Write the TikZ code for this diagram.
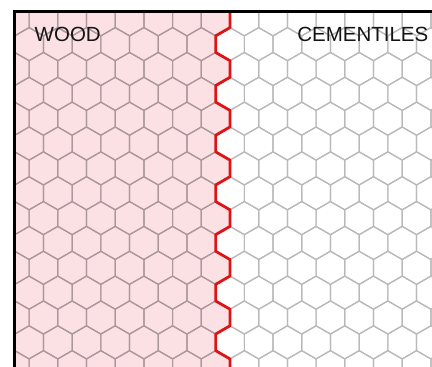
\documentclass[tikz,border=0pt]{standalone}
\usepackage{fontspec}
\setmainfont{Liberation Sans}
\definecolor{woodpink}{RGB}{252,225,228}
\definecolor{hexonpink}{RGB}{172,152,155}
\definecolor{hexonwhite}{RGB}{185,185,185}
\definecolor{boundred}{RGB}{222,20,20}
\begin{document}
\begin{tikzpicture}[x=1pt,y=-1pt,
  hexline/.style={line width=1.2pt,line join=round},
  zigpath/.style={insert path={(230,11.02) \foreach \k in {0,...,7}{ -- (230,{27.58+49.7*\k}) -- (215.65,{35.87+49.7*\k}) -- (215.65,{52.43+49.7*\k}) -- (230,{60.72+49.7*\k}) }}},
  label/.style={inner sep=0pt,font=\fontsize{20.5}{24}\selectfont,text=black!92}]
\useasboundingbox (0,0) rectangle (432,367);
\begin{scope}
  \clip (14,11) rectangle (432,367);
  \path[fill=woodpink,zigpath] -- (14,420) -- (14,0) -- (230,0) -- cycle;
  % grid on the wood side
  \begin{scope}
    \clip[zigpath] -- (14,420) -- (14,0) -- (230,0) -- cycle;
    \foreach \j in {-2,...,15} {
      \pgfmathsetmacro\cy{19.3+24.85*\j}
      \pgfmathsetmacro\ox{215.65+14.35*mod(\j+20,2)}
      \foreach \m in {-8,...,1} {
        \draw[hexline,draw=hexonpink] ({\ox+28.7*\m},\cy) +(30:16.57) -- +(90:16.57) -- +(150:16.57) -- +(210:16.57) -- +(270:16.57) -- +(330:16.57) -- cycle;
      }
    }
  \end{scope}
  % grid on the cement tile side
  \begin{scope}
    \clip[zigpath] -- (440,420) -- (440,0) -- (230,0) -- cycle;
    \foreach \j in {-2,...,15} {
      \pgfmathsetmacro\cy{19.3+24.85*\j}
      \pgfmathsetmacro\ox{215.65+14.35*mod(\j+20,2)}
      \foreach \m in {-1,...,8} {
        \draw[hexline,draw=hexonwhite] ({\ox+28.7*\m},\cy) +(30:16.57) -- +(90:16.57) -- +(150:16.57) -- +(210:16.57) -- +(270:16.57) -- +(330:16.57) -- cycle;
      }
    }
  \end{scope}
  \draw[boundred,line width=2.8pt,line join=round,zigpath];
\end{scope}
% frame
\coordinate (tl) at (14.5,11);
\coordinate (tr) at (432,11);
\coordinate (bl) at (14.5,367);
\draw[black,line width=3pt] (bl) -- (tl) -- (tr);
% labels
\node[label,anchor=base west] (wood) at (34.5,41.5) {WOOD};
\node[label,anchor=base east] (cement) at (428.5,41.5) {CEMENTILES};
\end{tikzpicture}
\end{document}
